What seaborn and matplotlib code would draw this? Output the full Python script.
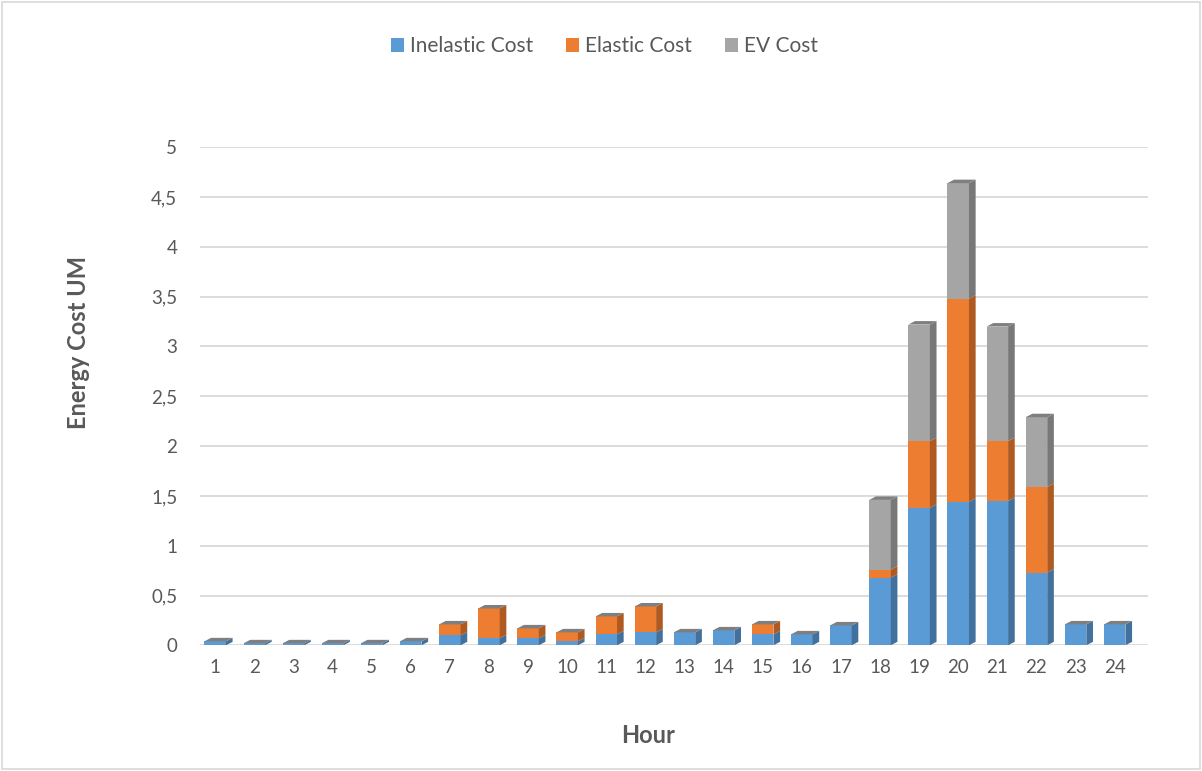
from __future__ import annotations

import matplotlib
matplotlib.use("Agg")
import matplotlib.pyplot as plt
import numpy as np
import pandas as pd
import seaborn as sns
from matplotlib.patches import Polygon, Rectangle
from matplotlib.ticker import FuncFormatter, MultipleLocator

HOURS = [str(h) for h in range(1, 25)]
INELASTIC = [0.04, 0.02, 0.02, 0.02, 0.02, 0.04, 0.10, 0.07, 0.07, 0.04, 0.11, 0.13,
             0.13, 0.15, 0.11, 0.11, 0.20, 0.68, 1.38, 1.44, 1.45, 0.73, 0.21, 0.21]
ELASTIC = [0.0, 0.0, 0.0, 0.0, 0.0, 0.0, 0.11, 0.30, 0.10, 0.09, 0.18, 0.26,
           0.0, 0.0, 0.10, 0.0, 0.0, 0.08, 0.67, 2.04, 0.60, 0.86, 0.0, 0.0]
EV = [0.0, 0.0, 0.0, 0.0, 0.0, 0.0, 0.0, 0.0, 0.0, 0.0, 0.0, 0.0,
      0.0, 0.0, 0.0, 0.0, 0.0, 0.70, 1.17, 1.16, 1.15, 0.70, 0.0, 0.0]

COLORS = {"Inelastic Cost": "#5B9BD5", "Elastic Cost": "#ED7D31", "EV Cost": "#A5A5A5"}
SIDE = {"Inelastic Cost": "#41719C", "Elastic Cost": "#AE5A21", "EV Cost": "#787878"}
TEXT = "#595959"

sns.set_theme(style="white")
plt.rcParams["font.family"] = ["Lato", "DejaVu Sans"]

df = pd.DataFrame({"Hour": HOURS, "Inelastic Cost": INELASTIC,
                   "Elastic Cost": ELASTIC, "EV Cost": EV})

fig = plt.figure(figsize=(12.02, 7.71), dpi=100)
ax = fig.add_axes([0.166, 0.163, 0.789, 0.646])

bottom = np.zeros(len(df))
layers = []
for name in ["Inelastic Cost", "Elastic Cost", "EV Cost"]:
    n_before = len(ax.patches)
    sns.barplot(data=df, x="Hour", y=name, bottom=bottom, color=COLORS[name],
                width=0.55, saturation=1, ax=ax, label=name, zorder=3, linewidth=0)
    layers.append((name, ax.patches[n_before:]))
    bottom = bottom + df[name].to_numpy()
if ax.get_legend() is not None:
    ax.get_legend().remove()

# 3D-style side and top faces
depth_x = 0.17
depth_y = 0.035
tops = {}
for name, patches in layers:
    for i, p in enumerate(patches):
        h = p.get_height()
        if h <= 0:
            continue
        x0, y0, w = p.get_x(), p.get_y(), p.get_width()
        x1, y1 = x0 + w, y0 + h
        side = Polygon([(x1, y0), (x1 + depth_x, y0 + depth_y), (x1 + depth_x, y1 + depth_y), (x1, y1)],
                       closed=True, facecolor=SIDE[name], edgecolor="none", zorder=3)
        ax.add_patch(side)
        tops[i] = (x0, x1, y1, name)
for i, (x0, x1, y1, name) in tops.items():
    top = Polygon([(x0, y1), (x0 + depth_x, y1 + depth_y), (x1 + depth_x, y1 + depth_y), (x1, y1)],
                  closed=True, facecolor="#7F7F7F", edgecolor="none", zorder=4)
    ax.add_patch(top)

ax.set_ylim(0, 5)
ax.set_xlim(-0.4, 23.85)
ax.yaxis.set_major_locator(MultipleLocator(0.5))
ax.yaxis.set_major_formatter(FuncFormatter(lambda v, _: f"{v:g}".replace(".", ",")))
ax.grid(axis="y", color="#D9D9D9", linewidth=1.3, zorder=0)
ax.set_axisbelow(True)
for s in ax.spines.values():
    s.set_visible(False)
ax.tick_params(axis="both", length=0, labelsize=13.5, colors=TEXT, pad=10)
ax.tick_params(axis="y", pad=16)

ax.set_xlabel("Hour", fontsize=17, fontweight="bold", color=TEXT)
ax.set_ylabel("Energy Cost UM", fontsize=17, fontweight="bold", color=TEXT)
ax.xaxis.set_label_coords(0.473, -0.158)
ax.yaxis.set_label_coords(-0.116, 0.608)

handles = [Rectangle((0, 0), 1, 1, facecolor=c, edgecolor="none") for c in COLORS.values()]
fig.legend(handles, list(COLORS.keys()), loc="center", bbox_to_anchor=(0.503, 0.94), ncol=3,
           frameon=False, fontsize=15, labelcolor=TEXT, handlelength=0.6, handleheight=0.6,
           handletextpad=0.3, columnspacing=1.6)

fig.patches.append(Rectangle((0.002, 0.002), 0.996, 0.996, transform=fig.transFigure,
                             fill=False, edgecolor="#D9D9D9", linewidth=1.2))

fig.savefig("out.png", dpi=100, facecolor="white")
